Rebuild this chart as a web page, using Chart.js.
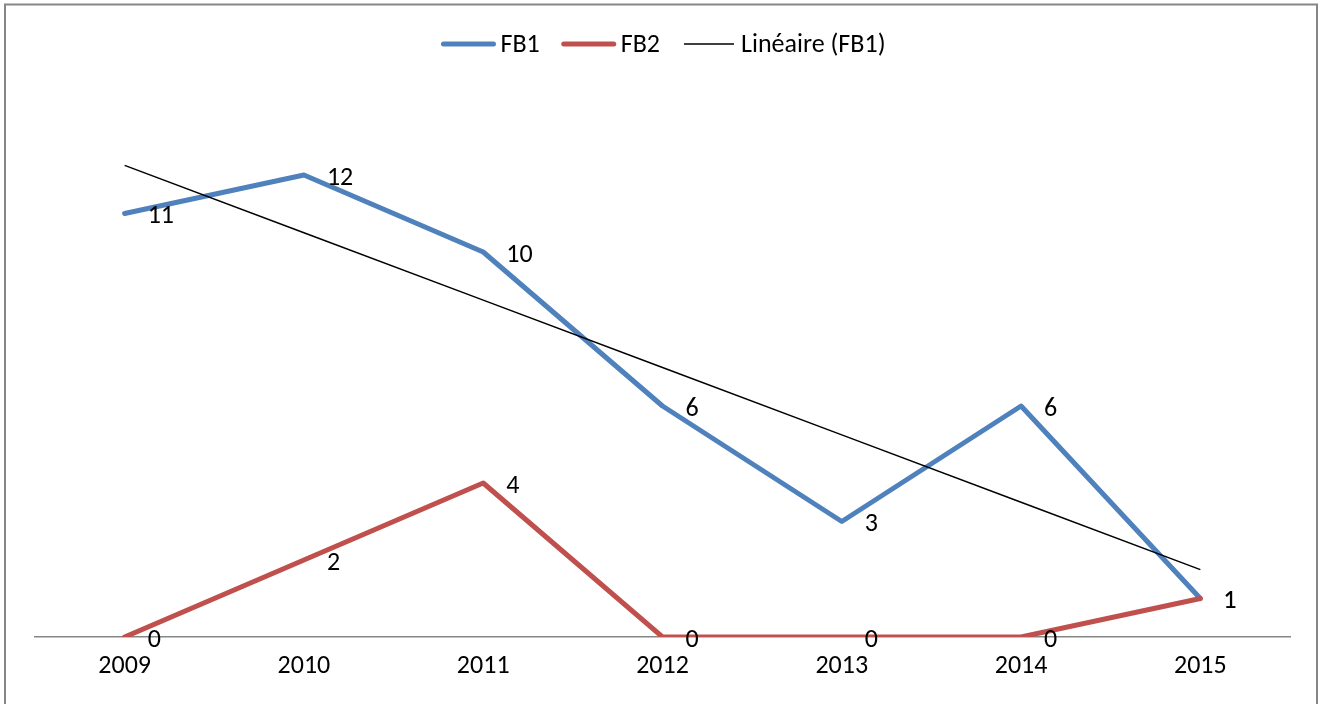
<!DOCTYPE html>
<html>
<head>
<meta charset="utf-8">
<script src="https://cdn.jsdelivr.net/npm/chart.js@4/dist/chart.umd.min.js"></script>
<style>
  html, body { margin: 0; padding: 0; background: #fff; }
  #wrap { width: 1323px; height: 704px; position: relative; }
</style>
</head>
<body>
<div id="wrap"><canvas id="chart" width="1323" height="704"></canvas></div>
<script>
// Data
const years = ['2009', '2010', '2011', '2012', '2013', '2014', '2015'];
const fb1 = [11, 12, 10, 6, 3, 6, 1];
const fb2 = [0, 2, 4, 0, 0, 0, 1];

const FONT = 'Carlito, Lato, "Liberation Sans", sans-serif';

// Linear trendline for FB1 (least squares, like Excel's "Linéaire")
const n = fb1.length;
const meanX = (n - 1) / 2;
const meanY = fb1.reduce((a, b) => a + b, 0) / n;
let sxy = 0, sxx = 0;
fb1.forEach((y, i) => { sxy += (i - meanX) * (y - meanY); sxx += (i - meanX) * (i - meanX); });
const slope = sxy / sxx;
const trend = fb1.map((_, i) => meanY + slope * (i - meanX));

// value labels to the right of each point
const valueLabels = {
    id: 'valueLabels',
    afterDatasetsDraw(chart) {
        const ctx = chart.ctx;
        ctx.save();
        ctx.font = '26px ' + FONT;
        ctx.fillStyle = '#000';
        ctx.textAlign = 'left';
        ctx.textBaseline = 'middle';
        [0, 1].forEach(di => {
            const meta = chart.getDatasetMeta(di);
            meta.data.forEach((pt, i) => {
                ctx.fillText(String(chart.data.datasets[di].data[i]), pt.x + 23, pt.y + 3);
            });
        });
        ctx.restore();
    }
};

// Excel-style legend and frame
const legendAndFrame = {
    id: 'legendAndFrame',
    beforeDraw(chart) {
        const ctx = chart.ctx;
        ctx.save();
        ctx.fillStyle = '#fff';
        ctx.fillRect(0, 0, chart.width, chart.height);
        ctx.strokeStyle = '#868686';
        ctx.lineWidth = 2;
        ctx.strokeRect(5, 4.5, 1312, 720);
        ctx.restore();
    },
    afterDraw(chart) {
        const ctx = chart.ctx;
        const items = [
            { text: 'FB1', color: '#4F81BD', width: 5 },
            { text: 'FB2', color: '#C0504D', width: 5 },
            { text: 'Linéaire (FB1)', color: '#000', width: 1.5 }
        ];
        ctx.save();
        ctx.font = '26px ' + FONT;
        ctx.textBaseline = 'middle';
        ctx.textAlign = 'left';
        const lineLen = 54, gap = 5, spacing = 22;
        let total = 0;
        items.forEach((it, i) => {
            it.tw = ctx.measureText(it.text).width;
            total += lineLen + gap + it.tw + (i < items.length - 1 ? spacing : 0);
        });
        let x = chart.width / 2 - total / 2 + 2;
        const y = 44;
        items.forEach(it => {
            ctx.strokeStyle = it.color;
            ctx.lineWidth = it.width;
            ctx.lineCap = it.width > 2 ? 'round' : 'butt';
            ctx.beginPath();
            ctx.moveTo(x + 2, y);
            ctx.lineTo(x + lineLen - 2, y);
            ctx.stroke();
            ctx.fillStyle = '#000';
            ctx.fillText(it.text, x + lineLen + gap, y + 1);
            x += lineLen + gap + it.tw + spacing;
        });
        ctx.restore();
    }
};

new Chart(document.getElementById('chart'), {
    type: 'line',
    data: {
        labels: years,
        datasets: [
            {
                label: 'FB1',
                data: fb1,
                borderColor: '#4F81BD',
                borderWidth: 5,
                borderCapStyle: 'round',
                borderJoinStyle: 'round',
                pointRadius: 0,
                tension: 0,
                order: 2
            },
            {
                label: 'FB2',
                data: fb2,
                borderColor: '#C0504D',
                borderWidth: 5,
                borderCapStyle: 'round',
                borderJoinStyle: 'round',
                pointRadius: 0,
                tension: 0,
                order: 1
            },
            {
                label: 'Linéaire (FB1)',
                data: trend,
                borderColor: '#000',
                borderWidth: 1.5,
                pointRadius: 0,
                tension: 0,
                order: 0
            }
        ]
    },
    options: {
        responsive: false,
        animation: false,
        layout: { padding: { left: 35, right: 33, top: 98, bottom: 0 } },
        plugins: {
            legend: { display: false },
            tooltip: { enabled: false }
        },
        scales: {
            x: {
                offset: true,
                grid: { display: false, drawTicks: false },
                border: { display: true, color: '#868686', width: 1.5 },
                ticks: {
                    color: '#000',
                    font: { family: FONT, size: 26 },
                    padding: 14,
                    maxRotation: 0
                },
                afterFit(scale) { scale.height = 67; }
            },
            y: {
                display: false,
                min: 0,
                max: 14
            }
        }
    },
    plugins: [valueLabels, legendAndFrame]
});
</script>
</body>
</html>
